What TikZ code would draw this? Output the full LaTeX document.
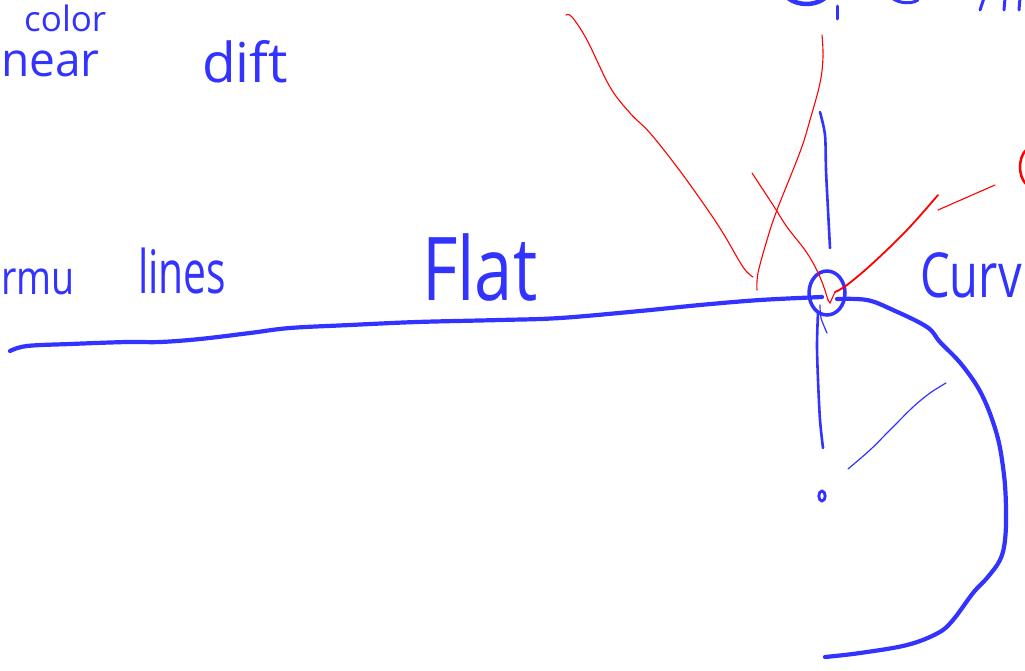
\documentclass[tikz,border=0pt]{standalone}
\usepackage{fontspec}
\setmainfont{Open Sans}
\definecolor{penblue}{RGB}{51,51,255}
\definecolor{penred}{RGB}{255,0,0}
\tikzset{
  thickpen/.style={penblue, line width=4.2pt, line cap=round, line join=round},
  midpen/.style={penblue, line width=2.6pt, line cap=round},
  thinblue/.style={penblue, line width=1.2pt, line cap=round},
  thinred/.style={penred, line width=1.1pt, line cap=round},
  redpen/.style={penred, line width=1.8pt, line cap=round},
  hand/.style={text=penblue, inner sep=0pt, anchor=base west, transform shape}
}
\begin{document}
\begin{tikzpicture}[x=1pt,y=-1pt]
\useasboundingbox (0,0) rectangle (1025,670);
\clip (0,0) rectangle (1025,670);
\fill[white] (0,0) rectangle (1025,670);

% texts
\node[hand, font=\fontsize{35}{35}\selectfont] (tcolor) at (24,31) {color};
\node[hand, font=\fontsize{47}{47}\selectfont, xscale=0.98] (tnear) at (1,76) {near};
\node[hand, font=\fontsize{55}{55}\selectfont] (tdift) at (202,82) {dift};
\node[hand, font=\fontsize{47}{47}\selectfont, xscale=0.8] (tormu) at (1,294) {rmu};
\node[hand, font=\fontsize{60}{60}\selectfont, xscale=0.68] (tlines) at (138,293) {lines};
\node[hand, font=\fontsize{88}{88}\selectfont, xscale=0.78] (tflat) at (422,300) {Flat};
\node[hand, font=\fontsize{62}{62}\selectfont, xscale=0.76] (tcurv) at (920,297) {Curv};

% partial letters at top edge
\draw[thickpen, line width=4.5pt] (788,-2) .. controls (798,6) and (815,6) .. (825,-2);
\draw[midpen, line width=3pt] (837,6) -- (837,19);
\draw[midpen, line width=3pt] (892,-2) .. controls (900,4) and (912,4) .. (918,0);
\draw[midpen, line width=3pt] (984,-2) -- (980,10);
\draw[midpen, line width=3pt] (1005,-2) -- (1004,10);
\draw[midpen, line width=3pt] (1020,-2) -- (1019,10);

% main flat line
\draw[thickpen] plot[smooth, tension=0.6] coordinates {(10,351) (27,346) (70,344) (127,342) (160,342) (200,339) (250,333) (290,328) (350,325) (417,322) (500,320) (560,318) (640,311) (700,305) (760,300) (822,297)};

% circle
\draw[penblue, line width=3.5pt] (827,293) ellipse [x radius=18, y radius=22];

% curve going right and down
\draw[thickpen] plot[smooth, tension=0.6] coordinates {(837,299) (867,300) (893,310) (927,327) (940,342) (962,365) (982,395) (997,435) (1004,475) (1006,510) (1005,540) (1000,560) (987,578) (973,593) (953,620) (938,633) (907,645) (860,653) (825,657)};

% blue vertical above
\draw[midpen] plot[smooth] coordinates {(820,112) (825,135) (826,170) (828,210) (830,248)};
% blue vertical below
\draw[midpen] plot[smooth] coordinates {(818,312) (817,345) (818,380) (820,420) (823,448)};
\draw[thinblue] plot[smooth] coordinates {(820,305) (821,318) (827,333)};
% thin blue diagonal
\draw[thinblue] plot[smooth] coordinates {(848,469) (870,450) (890,430) (913,407) (930,393) (946,383)};
% small o
\draw[penblue, line width=2.8pt] (822,496) ellipse [x radius=3.2, y radius=5];

% red strokes
\draw[thinred] plot[smooth, tension=0.6] coordinates {(566,15) (572,17) (587,40) (610,87) (630,113) (650,133) (677,167) (703,203) (723,233) (743,267) (753,277)};
\draw[thinred] plot[smooth, tension=0.6] coordinates {(757,290) (758,273) (767,240) (777,210) (800,152) (810,120) (820,83) (823,57) (822,35)};
\draw[thinred] plot[smooth, tension=0.6] coordinates {(752,173) (773,205) (787,227) (807,253) (820,277) (828,300)};
\draw[thinred] (828,300) -- (830,303) -- (835,292);
\draw[redpen] plot[smooth, tension=0.6] coordinates {(835,292) (847,285) (873,263) (907,230) (938,195)};
\draw[thinred] (938,210) -- (995,185);
\draw[redpen, line width=2.5pt] (1026,150) .. controls (1018,158) and (1018,176) .. (1026,184);
\end{tikzpicture}
\end{document}
